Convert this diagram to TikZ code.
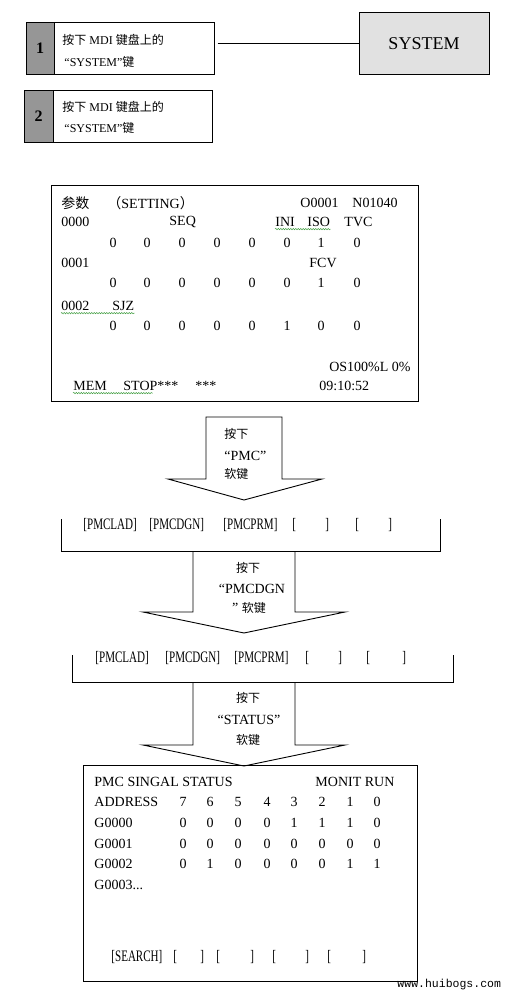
\documentclass[tikz,border=0pt]{standalone}
\usepackage{fontspec}
\setmainfont{Liberation Serif}
\setmonofont{Liberation Mono}
\newfontfamily\cjk{Noto Sans CJK SC}
\newfontfamily\narrowfont[FakeStretch=0.69]{Liberation Serif}
\usetikzlibrary{decorations.pathmorphing}
\definecolor{numgray}{RGB}{150,150,150}
\definecolor{sysgray}{RGB}{225,225,225}
\definecolor{spellgreen}{RGB}{70,160,70}
\begin{document}
\begin{tikzpicture}[x=1pt,y=-1pt,line width=0.9pt,
  frame/.style={draw,inner sep=0pt,line width=1pt},
  numcell/.style={frame,fill=numgray,font=\fontsize{16}{18}\selectfont\bfseries},
  lbl/.style={inner sep=0pt,anchor=west,font=\fontsize{12}{14}\selectfont},
  scr/.style={inner sep=0pt,anchor=west,font=\fontsize{14}{16}\selectfont},
  scrc/.style={scr,anchor=center},
  softkey/.style={inner sep=0pt,anchor=west,font=\narrowfont\fontsize{16}{18}\selectfont},
  akey/.style={inner sep=0pt,font=\fontsize{14}{16}\selectfont},
  spell/.style={draw=spellgreen,line width=0.5pt,decorate,decoration={snake,amplitude=0.7pt,segment length=2.5pt}},
  blockarrow/.style={draw,line width=0.9pt,fill=white},
]
\useasboundingbox[fill=white] (0,0) rectangle (512,998);

% --- step boxes ---
\node[frame,minimum width=188,minimum height=51] (b1) at (120,48.5) {};
\node[numcell,minimum width=28,minimum height=51] (n1) at (40,48.5) {1};
\node[lbl] (b1t1) at (62,40) {{\cjk 按下} MDI {\cjk 键盘上的}};
\node[lbl] (b1t2) at (64,62) {“SYSTEM”{\cjk 键}};

\node[frame,fill=sysgray,minimum width=130,minimum height=61,font=\fontsize{18}{20}\selectfont] (sys) at (424,43.5) {SYSTEM};
\draw ([xshift=3pt]b1.east |- sys.west) -- (sys.west);

\node[frame,minimum width=188,minimum height=52] (b2) at (118,116) {};
\node[numcell,minimum width=29,minimum height=52] (n2) at (38.5,116) {2};
\node[lbl] (b2t1) at (62,107) {{\cjk 按下} MDI {\cjk 键盘上的}};
\node[lbl] (b2t2) at (64,128) {“SYSTEM”{\cjk 键}};

% --- setting screen ---
\node[frame,minimum width=367,minimum height=216] (scr1) at (234.5,293) {};
\node[scr] (s1) at (61,203) {{\cjk 参数}};
\node[scr] (s2) at (107,203) {{\cjk （}SETTING{\cjk ）}};
\node[scr] (s3) at (300,203) {O0001};
\node[scr] (s4) at (352,203) {N01040};
\node[scr] (p0) at (61,222) {0000};
\node[scr] (seq) at (169,222) {SEQ};
\node[scr] (ini) at (275,222) {INI};
\node[scr] (iso) at (307,222) {ISO};
\node[scr] (tvc) at (344,222) {TVC};
\foreach \x/\v [count=\i] in {113/0,147/0,182/0,217/0,252/0,287/0,321/1,357/0}
  \node[scrc] (ra\i) at (\x,243) {\v};
\node[scr] (p1) at (61,263) {0001};
\node[scrc] (fcv) at (323,263) {FCV};
\foreach \x/\v [count=\i] in {113/0,147/0,182/0,217/0,252/0,287/0,321/1,357/0}
  \node[scrc] (rb\i) at (\x,283) {\v};
\node[scr] (p2) at (61,306) {0002};
\node[scr] (sjz) at (112,306) {SJZ};
\foreach \x/\v [count=\i] in {113/0,147/0,182/0,217/0,252/0,287/1,321/0,357/0}
  \node[scrc] (rc\i) at (\x,326) {\v};
\node[scr,anchor=east] (os) at (411,367) {OS100\%L 0\%};
\node[scr] (mem) at (73,386) {MEM};
\node[scr] (stop) at (123,386) {STOP***};
\node[scr] (stars) at (195,386) {***};
\node[scr] (clk) at (319,386) {09:10:52};
\draw[spell] ([yshift=-2pt]ini.south west) -- ([yshift=-2pt]iso.south east);
\draw[spell] ([yshift=-2pt]p2.south west) -- ([yshift=-2pt]sjz.south east);
\draw[spell] ([yshift=-2pt]mem.south west) -- ([yshift=-2pt,xshift=2pt]stop.south);

% --- arrow 1 ---
\draw[blockarrow] (206,417) -- (282,417) -- (282,479) -- (322,479) -- (244,500) -- (168,479) -- (206,479) -- cycle;
\node[akey,anchor=west,font=\fontsize{12}{14}\selectfont] (a1a) at (224,434) {\cjk 按下};
\node[akey,anchor=west] (a1b) at (224,456) {“PMC”};
\node[akey,anchor=west,font=\fontsize{12}{14}\selectfont] (a1c) at (224,474) {\cjk 软键};

% --- arrow 2 ---
\draw[blockarrow] (193,551) -- (193,612) -- (143,612) -- (244,633) -- (345,612) -- (295,612) -- (295,551);
\node[akey,font=\fontsize{12}{14}\selectfont] (a2a) at (248,568) {\cjk 按下};
\node[akey] (a2b) at (252,589) {“PMCDGN};
\node[akey] (a2c) at (249,608) {” {\fontsize{12}{14}\selectfont\cjk 软键}};

% --- arrow 3 ---
\draw[blockarrow] (193,682) -- (193,745) -- (143,745) -- (244,766) -- (345,745) -- (295,745) -- (295,682);
\node[akey,font=\fontsize{12}{14}\selectfont] (a3a) at (248,698) {\cjk 按下};
\node[akey] (a3b) at (249,720) {“STATUS”};
\node[akey,font=\fontsize{12}{14}\selectfont] (a3c) at (248,740) {\cjk 软键};

% --- soft key row 1 ---
\coordinate (k1l) at (61,519);
\coordinate (k1r) at (440,519);
\coordinate (k1bl) at (61,551);
\coordinate (k1br) at (440,551);
\draw (k1l) -- (k1bl) -- (k1br) -- (k1r);
\foreach \x/\t [count=\i] in {83/{[PMCLAD]},149/{[PMCDGN]},223/{[PMCPRM]},292/{[},325/{]},355/{[},388/{]}}
  \node[softkey] (ka\i) at (\x,525) {\t};

% --- soft key row 2 ---
\coordinate (k2l) at (72,655);
\coordinate (k2r) at (453,655);
\coordinate (k2bl) at (72,682);
\coordinate (k2br) at (453,682);
\draw (k2l) -- (k2bl) -- (k2br) -- (k2r);
\foreach \x/\t [count=\i] in {95/{[PMCLAD]},165/{[PMCDGN]},234/{[PMCPRM]},305/{[},338/{]},366/{[},402/{]}}
  \node[softkey] (kb\i) at (\x,658) {\t};

% --- status screen ---
\node[frame,minimum width=334,minimum height=216] (scr2) at (250,873) {};
\node[scr] (t1) at (94,782) {PMC SINGAL STATUS};
\node[scr] (t2) at (315,782) {MONIT RUN};
\node[scr] (ad) at (94,802) {ADDRESS};
\foreach \x/\v [count=\i] in {183/7,210/6,238/5,267/4,294/3,322/2,350/1,377/0}
  \node[scrc] (h\i) at (\x,802) {\v};
\node[scr] (g0) at (94,823) {G0000};
\foreach \x/\v [count=\i] in {183/0,210/0,238/0,267/0,294/1,322/1,350/1,377/0}
  \node[scrc] (ga\i) at (\x,823) {\v};
\node[scr] (g1) at (94,844) {G0001};
\foreach \x/\v [count=\i] in {183/0,210/0,238/0,267/0,294/0,322/0,350/0,377/0}
  \node[scrc] (gb\i) at (\x,844) {\v};
\node[scr] (g2) at (94,864) {G0002};
\foreach \x/\v [count=\i] in {183/0,210/1,238/0,267/0,294/0,322/0,350/1,377/1}
  \node[scrc] (gc\i) at (\x,864) {\v};
\node[scr] (g3) at (94,885) {G0003...};
\foreach \x/\t [count=\i] in {111/{[SEARCH]},173/{[},200/{]},216/{[},250/{]},272/{[},305/{]},327/{[},362/{]}}
  \node[softkey] (kc\i) at (\x,957) {\t};

\node[inner sep=0pt,anchor=west,font=\ttfamily\fontsize{11.5}{13}\selectfont] (wm) at (397,985) {www.huibogs.com};
\end{tikzpicture}
\end{document}
